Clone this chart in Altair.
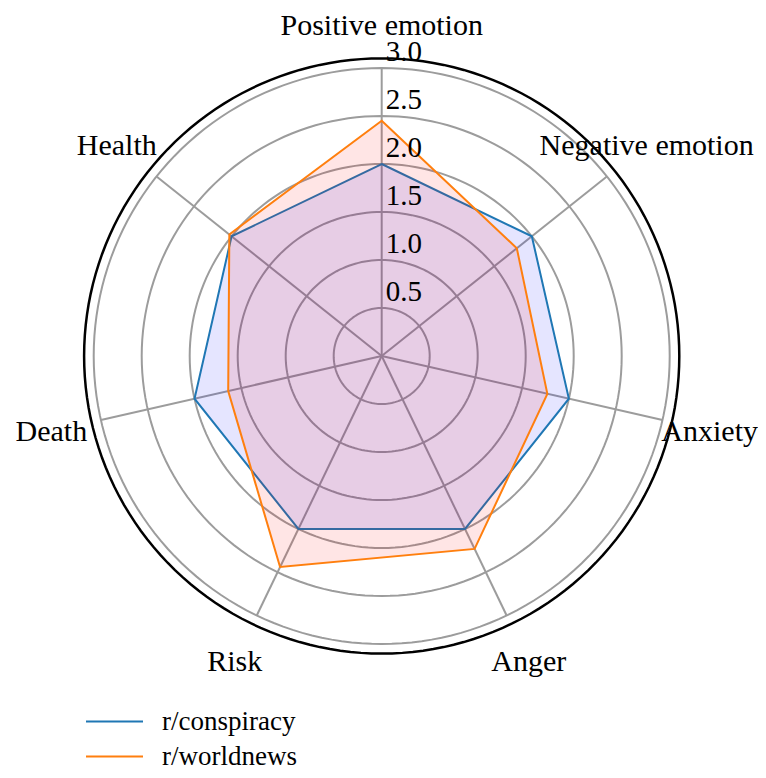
import altair as alt
import pandas as pd
import numpy as np

# ---- data ----
categories = ["Positive emotion", "Negative emotion", "Anxiety", "Anger", "Risk", "Death", "Health"]
conspiracy = [2.0, 2.0, 2.0, 2.0, 2.0, 2.0, 2.0]
worldnews = [2.45, 1.80, 1.77, 2.23, 2.44, 1.64, 2.03]
series_names = ["r/conspiracy", "r/worldnews"]
series_colors = ["#1f77b4", "#ff7f0e"]
fill_colors = ["#0000ff", "#ff0000"]
ring_values = [0.5, 1.0, 1.5, 2.0, 2.5, 3.0]
tick_labels = ["0.5", "1.0", "1.5", "2.0", "2.5", "3.0"]
r_max = 3.1
label_r = 3.53

# ---- layout ----
W, H = 750, 762
unit = 96.0
cx, cy = 373.7, 348.0
xscale = alt.Scale(domain=[-cx / unit, (W - cx) / unit], nice=False, zero=False)
yscale = alt.Scale(domain=[-(H - cy) / unit, cy / unit], nice=False, zero=False)
FONT = "Liberation Serif"
FS = 30
n = len(categories)


def ang(i):
    return 2 * np.pi * i / n


# series polygons
rows = []
for s, vals in zip(series_names, [conspiracy, worldnews]):
    for i, (c, v) in enumerate(zip(categories, vals)):
        rows.append({"series": s, "cat": c, "idx": i, "v": v,
                     "x": v * np.sin(ang(i)), "y": v * np.cos(ang(i))})
sdf = pd.DataFrame(rows)

# grid rings
ring_rows = []
steps = np.arange(0, 360, 2)
for r in ring_values + [r_max]:
    for k, d in enumerate(steps):
        t = np.deg2rad(d)
        ring_rows.append({"r": r, "k": k, "x": r * np.sin(t), "y": r * np.cos(t),
                          "frame": r == r_max})
rdf = pd.DataFrame(ring_rows)

# spokes
spk = pd.DataFrame({"cat": categories,
                    "x0": [0.0] * n, "y0": [0.0] * n,
                    "x1": [ring_values[-1] * np.sin(ang(i)) for i in range(n)],
                    "y1": [ring_values[-1] * np.cos(ang(i)) for i in range(n)]})

# category labels: centred on a circle, kept inside the drawable page area
lx, ly = [], []
for i, c in enumerate(categories):
    px = cx + label_r * unit * np.sin(ang(i))
    py = cy - label_r * unit * np.cos(ang(i))
    half_w = 0.46 * FS * len(c) / 2
    px = min(max(px, half_w), W - half_w)
    py = max(py, 0.58 * FS)
    lx.append((px - cx) / unit)
    ly.append((cy - py) / unit)
ldf = pd.DataFrame({"cat": categories, "x": lx, "y": ly})

# radial tick labels
tdf = pd.DataFrame({"lab": tick_labels, "x": [0.0] * len(ring_values), "y": ring_values})

X = lambda f: alt.X(f, type="quantitative", scale=xscale, axis=None)
Y = lambda f: alt.Y(f, type="quantitative", scale=yscale, axis=None)

grid = alt.Chart(rdf[~rdf.frame]).mark_line(interpolate="linear-closed", color="#9c9c9c", strokeWidth=2).encode(
    x=X("x"), y=Y("y"), detail="r:N", order="k:Q")
frame = alt.Chart(rdf[rdf.frame]).mark_line(interpolate="linear-closed", color="black", strokeWidth=2.5).encode(
    x=X("x"), y=Y("y"), order="k:Q")
spokes = alt.Chart(spk).mark_rule(color="#9c9c9c", strokeWidth=2).encode(
    x=X("x0"), y=Y("y0"), x2="x1:Q", y2="y1:Q")

color = alt.Color("series:N", scale=alt.Scale(domain=series_names, range=series_colors),
                  legend=alt.Legend(title=None, orient="none", legendX=93, legendY=700,
                                    symbolType="M-3,0H3", symbolSize=361, symbolStrokeWidth=2,
                                    labelFont=FONT, labelFontSize=27, labelColor="black",
                                    labelOffset=34, rowPadding=7, symbolOffset=0, padding=0))

polys = []
for s, fc in zip(series_names, fill_colors):
    polys.append(alt.Chart(sdf[sdf.series == s]).mark_line(
        interpolate="linear-closed", strokeWidth=2, fill=fc, fillOpacity=0.1).encode(
        x=X("x"), y=Y("y"), order="idx:Q", color=color))

labels = alt.Chart(ldf).mark_text(font=FONT, fontSize=FS, align="center", baseline="alphabetic",
                                  dy=10, color="black").encode(
    x=X("x"), y=Y("y"), text="cat:N")
ticks = alt.Chart(tdf).mark_text(font=FONT, fontSize=29, align="left", baseline="alphabetic",
                                 dx=4, dy=-7, color="black").encode(
    x=X("x"), y=Y("y"), text="lab:N")

chart = alt.layer(grid, spokes, frame, *polys, ticks, labels).properties(
    width=W, height=H, autosize=alt.AutoSizeParams(type="none"), padding=0
).configure_view(stroke=None)

chart.save("out.html", embed_options={"renderer": "svg", "actions": False})
